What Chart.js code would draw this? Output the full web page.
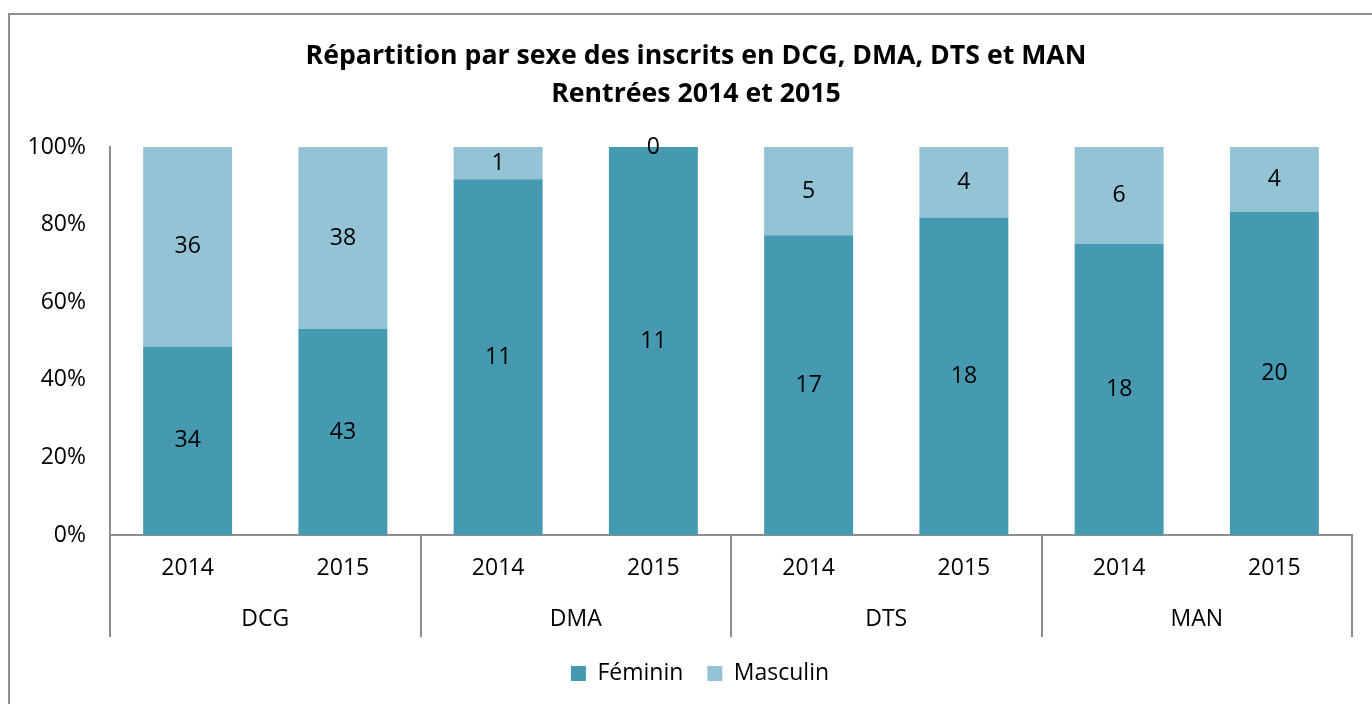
<!DOCTYPE html>
<html>
<head>
<meta charset="utf-8">
<script src="https://cdn.jsdelivr.net/npm/chart.js@4.4.1/dist/chart.umd.min.js"></script>
<style>
  html, body { margin: 0; padding: 0; background: #fff; overflow: hidden; }
  #frame { position: absolute; left: 8px; top: 13px; width: 1420px; height: 800px; border: 2px solid #8e8e8e; }
  #wrap { position: absolute; left: 0; top: 0; width: 1372px; height: 704px; }
</style>
</head>
<body>
<div id="frame"></div>
<div id="wrap"><canvas id="chart"></canvas></div>
<script>
// data (head counts)
const years = ['2014', '2015', '2014', '2015', '2014', '2015', '2014', '2015'];
const groups = ['DCG', 'DMA', 'DTS', 'MAN'];
const feminin = [34, 43, 11, 11, 17, 18, 18, 20];
const masculin = [36, 38, 1, 0, 5, 4, 6, 4];
const yTicks = [0, 20, 40, 60, 80, 100];
const titleLines = ['Répartition par sexe des inscrits en DCG, DMA, DTS et MAN', 'Rentrées 2014 et 2015'];

const FONT = "'Open Sans', sans-serif";
const AXIS = '#8e8e8e';

// 100% stack: share of each sex per bar
const totals = feminin.map((f, i) => f + masculin[i]);
const femPct = feminin.map((f, i) => f / totals[i] * 100);
const mascPct = masculin.map((m, i) => m / totals[i] * 100);

const counts = [feminin, masculin];

// title drawn by hand so it can sit off the canvas centre like the original
const chartTitle = {
  id: 'chartTitle',
  afterLayout(chart) {
    // legend in the original is centred a bit right of the canvas middle
    if (chart.legend) {
      chart.legend.left += 19;
      chart.legend.right += 19;
    }
  },
  afterDraw(chart) {
    const { ctx } = chart;
    ctx.save();
    ctx.font = 'bold 26.7px ' + FONT;
    ctx.fillStyle = '#000';
    ctx.textAlign = 'center';
    ctx.textBaseline = 'middle';
    ctx.fillText(titleLines[0], 696, 56);
    ctx.fillText(titleLines[1], 696, 94);
    ctx.restore();
  }
};

const valueLabels = {
  id: 'valueLabels',
  afterDatasetsDraw(chart) {
    const { ctx } = chart;
    ctx.save();
    ctx.font = '23px ' + FONT;
    ctx.fillStyle = '#000';
    ctx.textAlign = 'center';
    ctx.textBaseline = 'middle';
    chart.data.datasets.forEach((ds, di) => {
      chart.getDatasetMeta(di).data.forEach((bar, i) => {
        const { x, y, base } = bar.getProps(['x', 'y', 'base'], true);
        ctx.fillText(String(counts[di][i]), x, (y + base) / 2);
      });
    });
    ctx.restore();
  }
};

// second level of the category axis: group names + separators
const groupAxis = {
  id: 'groupAxis',
  afterDraw(chart) {
    const { ctx, chartArea } = chart;
    const xs = chart.scales.x;
    const step = (xs.right - xs.left) / years.length;
    const top = chartArea.bottom;
    const bottom = top + 102;
    ctx.save();
    ctx.strokeStyle = AXIS;
    ctx.lineWidth = 2;
    ctx.beginPath();
    for (let g = 0; g <= groups.length; g++) {
      const px = Math.round(xs.getPixelForValue(g * 2) - step / 2);
      ctx.moveTo(px, top);
      ctx.lineTo(px, bottom);
    }
    ctx.stroke();
    ctx.font = '23px ' + FONT;
    ctx.fillStyle = '#000';
    ctx.textAlign = 'center';
    ctx.textBaseline = 'middle';
    groups.forEach((g, i) => {
      const cx = (xs.getPixelForValue(i * 2) + xs.getPixelForValue(i * 2 + 1)) / 2;
      ctx.fillText(g, cx, top + 84);
    });
    ctx.restore();
  }
};

new Chart(document.getElementById('chart'), {
  type: 'bar',
  data: {
    labels: years,
    datasets: [
      { label: 'Féminin', data: femPct, backgroundColor: '#4599B1', borderWidth: 0 },
      { label: 'Masculin', data: mascPct, backgroundColor: '#93C3D5', borderWidth: 0 }
    ]
  },
  options: {
    responsive: true,
    maintainAspectRatio: false,
    animation: false,
    barPercentage: 0.573,
    categoryPercentage: 1,
    layout: { padding: { top: 147, left: 10, right: 20, bottom: 9 } },
    plugins: {
      title: { display: false },
      legend: {
        position: 'bottom',
        labels: {
          font: { family: FONT, size: 23 },
          color: '#000',
          boxWidth: 15,
          boxHeight: 15,
          padding: 24
        }
      },
      tooltip: { enabled: false }
    },
    scales: {
      x: {
        stacked: true,
        grid: { display: false, drawTicks: false },
        border: { display: true, color: AXIS, width: 2 },
        ticks: { font: { family: FONT, size: 23 }, color: '#000', padding: 20, maxRotation: 0 },
        afterFit(scale) { scale.height = 103; }
      },
      y: {
        stacked: true,
        min: 0,
        max: 100,
        afterBuildTicks(scale) { scale.ticks = yTicks.map(v => ({ value: v })); },
        grid: { display: false, drawTicks: false },
        border: { display: true, color: AXIS, width: 2 },
        ticks: { font: { family: FONT, size: 23 }, color: '#000', padding: 24, callback: v => v + '%' },
        afterFit(scale) { scale.width = 100; }
      }
    }
  },
  plugins: [valueLabels, groupAxis, chartTitle]
});
</script>
</body>
</html>
